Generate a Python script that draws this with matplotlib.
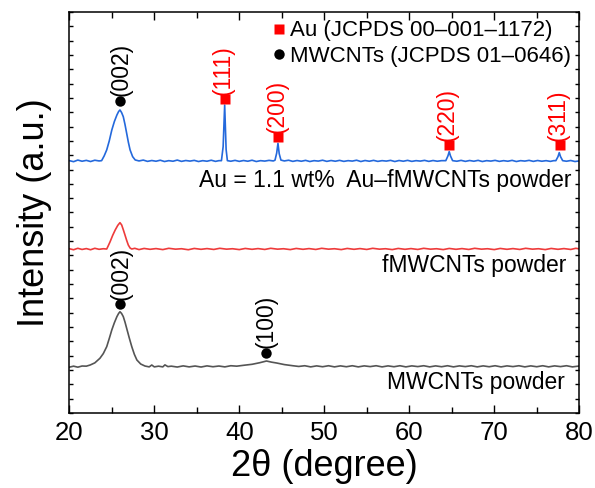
import numpy as np
import matplotlib
matplotlib.use("Agg")
import matplotlib.pyplot as plt
from matplotlib.lines import Line2D
from matplotlib.ticker import MultipleLocator, NullFormatter

plt.rcParams['font.family'] = ['Liberation Sans', 'DejaVu Sans']

# (2theta, intensity), offset traces already stacked
au_fmwcnt = [(20.0,17.62),(20.5,17.55),(21.0,17.66),(21.5,17.58),(22.0,17.64),(22.5,17.56),(23.0,17.65),(23.5,17.6),
    (23.8,17.62),(24.1,17.95),(24.4,18.37),(24.7,19.0),(25.0,19.76),(25.3,20.35),(25.6,20.81),(25.8,21.05),(25.96,21.16),
    (26.15,20.98),(26.35,20.69),(26.55,20.15),(26.75,19.53),(26.95,18.9),(27.15,18.37),(27.45,17.9),(27.75,17.67),
    (28.2,17.6),(28.7,17.66),(29.2,17.57),(29.7,17.63),(30.2,17.58),(30.7,17.65),(31.2,17.56),(31.7,17.62),(32.2,17.58),
    (32.7,17.66),(33.2,17.57),(33.7,17.63),(34.2,17.59),(34.7,17.64),(35.2,17.56),(35.7,17.62),(36.2,17.58),(36.7,17.65),
    (37.2,17.57),(37.6,17.62),(37.9,17.62),(38.1,18.6),(38.2,20.2),(38.28,21.5),(38.36,20.0),(38.45,18.4),(38.6,17.62),
    (39.0,17.58),(39.5,17.64),(40.0,17.57),(40.5,17.63),(41.0,17.58),(41.5,17.65),(42.0,17.56),(42.5,17.62),(43.0,17.59),
    (43.5,17.64),(44.0,17.6),(44.2,17.65),(44.4,18.15),(44.55,18.83),(44.7,18.1),(44.9,17.66),(45.3,17.6),(45.8,17.65),
    (46.3,17.57),(46.8,17.63),(47.3,17.58),(47.8,17.64),(48.3,17.56),(48.8,17.62),(49.3,17.59),(49.8,17.65),(50.3,17.57),
    (50.8,17.63),(51.3,17.58),(51.8,17.64),(52.3,17.57),(52.8,17.62),(53.3,17.59),(53.8,17.65),(54.3,17.56),(54.8,17.63),
    (55.3,17.58),(55.8,17.64),(56.3,17.57),(56.8,17.62),(57.3,17.59),(57.8,17.64),(58.3,17.56),(58.8,17.63),(59.3,17.58),
    (59.8,17.64),(60.3,17.57),(60.8,17.62),(61.3,17.59),(61.8,17.64),(62.3,17.57),(62.8,17.63),(63.3,17.58),(63.8,17.62),
    (64.3,17.62),(64.55,17.95),(64.7,18.25),(64.85,17.95),(65.1,17.62),(65.6,17.58),(66.1,17.64),(66.6,17.57),(67.1,17.63),
    (67.6,17.58),(68.1,17.64),(68.6,17.56),(69.1,17.62),(69.6,17.59),(70.1,17.64),(70.6,17.57),(71.1,17.62),(71.6,17.58),
    (72.1,17.64),(72.6,17.56),(73.1,17.62),(73.6,17.59),(74.1,17.64),(74.6,17.57),(75.1,17.63),(75.6,17.58),(76.1,17.62),
    (76.6,17.57),(77.0,17.62),(77.25,17.62),(77.5,17.9),(77.65,18.18),(77.8,17.9),(78.05,17.62),(78.5,17.58),(79.0,17.63),
    (79.5,17.56),(80.0,17.6)]

fmwcnt = [(20.0,11.47),(20.5,11.4),(21.0,11.5),(21.5,11.42),(22.0,11.48),(22.5,11.4),(23.0,11.5),(23.5,11.43),(24.0,11.47),
    (24.4,11.45),(24.6,11.7),(24.8,11.96),(25.1,12.4),(25.4,12.78),(25.7,13.1),(25.96,13.29),(26.16,13.13),(26.35,12.8),
    (26.55,12.43),(26.75,12.05),(26.94,11.73),(27.15,11.52),(27.35,11.45),(27.7,11.5),(28.2,11.41),(28.8,11.49),(29.5,11.43),
    (30.2,11.48),(31.0,11.41),(31.7,11.5),(32.5,11.44),(33.2,11.47),(34.0,11.4),(34.7,11.49),(35.5,11.43),(36.2,11.48),
    (37.0,11.42),(37.7,11.5),(38.5,11.44),(39.2,11.47),(40.0,11.41),(40.7,11.49),(41.5,11.43),(42.2,11.48),(43.0,11.42),
    (43.7,11.5),(44.5,11.44),(45.2,11.47),(46.0,11.41),(46.7,11.49),(47.5,11.43),(48.2,11.48),(49.0,11.42),(49.7,11.5),
    (50.5,11.44),(51.2,11.47),(52.0,11.41),(52.7,11.49),(53.5,11.43),(54.2,11.48),(55.0,11.42),(55.7,11.5),(56.5,11.44),
    (57.2,11.47),(58.0,11.41),(58.7,11.49),(59.5,11.43),(60.2,11.48),(61.0,11.42),(61.7,11.5),(62.5,11.44),(63.2,11.47),
    (64.0,11.41),(64.7,11.49),(65.5,11.43),(66.2,11.48),(67.0,11.42),(67.7,11.5),(68.5,11.44),(69.2,11.47),(70.0,11.41),
    (70.7,11.49),(71.5,11.43),(72.2,11.48),(73.0,11.42),(73.7,11.5),(74.5,11.44),(75.2,11.47),(76.0,11.41),(76.7,11.49),
    (77.5,11.43),(78.2,11.48),(79.0,11.42),(79.6,11.5),(80.0,11.46)]

mwcnt = [(20.0,3.2),(20.5,3.27),(21.0,3.2),(21.5,3.28),(22.0,3.27),(22.45,3.35),(23.0,3.5),(23.6,3.82),(24.0,4.15),
    (24.4,4.63),(24.7,5.2),(25.0,5.8),(25.3,6.3),(25.6,6.73),(25.8,6.95),(25.96,7.07),(26.15,6.95),(26.35,6.73),(26.55,6.35),
    (26.75,5.91),(27.05,5.25),(27.35,4.63),(27.65,4.1),(27.95,3.7),(28.4,3.42),(28.9,3.28),(29.4,3.22),(29.7,3.35),(30.0,3.22),
    (30.5,3.27),(31.0,3.22),(31.25,3.36),(31.6,3.24),(32.0,3.27),(32.7,3.21),(33.4,3.29),(34.1,3.22),(34.8,3.28),(35.5,3.21),
    (36.2,3.29),(36.9,3.23),(37.6,3.28),(38.3,3.22),(39.0,3.3),(39.7,3.27),(40.5,3.33),(41.5,3.4),(42.4,3.51),(43.2,3.63),
    (43.8,3.55),(44.4,3.49),(45.3,3.38),(46.3,3.3),(47.0,3.25),(47.7,3.3),(48.4,3.22),(49.1,3.29),(49.8,3.23),(50.5,3.3),
    (51.2,3.22),(51.9,3.29),(52.6,3.23),(53.3,3.3),(54.0,3.22),(54.7,3.29),(55.4,3.24),(56.1,3.3),(56.8,3.22),(57.5,3.29),
    (58.2,3.23),(58.9,3.3),(59.6,3.22),(60.3,3.29),(61.0,3.24),(61.7,3.3),(62.4,3.22),(63.1,3.29),(63.8,3.23),(64.5,3.3),
    (65.2,3.22),(65.9,3.29),(66.6,3.24),(67.3,3.3),(68.0,3.22),(68.7,3.29),(69.4,3.23),(70.1,3.3),(70.8,3.22),(71.5,3.29),
    (72.2,3.24),(72.9,3.3),(73.6,3.22),(74.3,3.29),(75.0,3.23),(75.7,3.3),(76.4,3.22),(77.1,3.29),(77.8,3.24),(78.5,3.3),
    (79.2,3.22),(80.0,3.28)]

# peak markers: (x, marker y, label)
au_peaks = [(38.28, 21.9, '(111)'), (44.55, 19.25, '(200)'), (64.65, 18.7, '(220)'), (77.7, 18.7, '(311)')]
cnt_peaks = [(25.96, 21.8, '(002)'), (26.0, 7.59, '(002)'), (43.1, 4.21, '(100)')]

sample_labels = [(79.1, 16.2, 'Au = 1.1 wt%  Au\u2013fMWCNTs powder'),
                 (78.5, 10.33, 'fMWCNTs powder'),
                 (78.3, 2.16, 'MWCNTs powder')]

fig = plt.figure(figsize=(5.95, 4.88), dpi=100)
ax = fig.add_axes([0.1165, 0.1537, 0.857, 0.8217])

for pts, col in [(au_fmwcnt, '#2469dc'), (fmwcnt, '#ee3b3b'), (mwcnt, '#555555')]:
    a = np.array(pts)
    ax.plot(a[:, 0], a[:, 1], color=col, lw=1.2)

for x, y, lab in au_peaks:
    ax.plot(x, y, 's', color='#ff0000', ms=6.5, mec='none')
    ax.text(x - 0.15, y + 0.3, lab, rotation=90, ha='center', va='bottom', color='#ff0000', fontsize=16.5)
for x, y, lab in cnt_peaks:
    ax.plot(x, y, 'o', color='k', ms=7.5, mec='none')
    ax.text(x + 0.1, y + 0.3, lab, rotation=90, ha='center', va='bottom', color='k', fontsize=16.5)

for x, y, lab in sample_labels:
    ax.text(x, y, lab, ha='right', va='center', fontsize=16.5)

handles = [Line2D([], [], ls='none', marker='s', color='#ff0000', ms=6.5, mec='none'),
           Line2D([], [], ls='none', marker='o', color='k', ms=7.5, mec='none')]
ax.legend(handles, ['Au (JCPDS 00\u2013001\u20131172)', 'MWCNTs (JCPDS 01\u20130646)'],
          loc='upper left', bbox_to_anchor=(0.39, 0.99), frameon=False, fontsize=16,
          handlelength=0.6, handletextpad=0.2, borderpad=0.1, labelspacing=0.2, borderaxespad=0.1)

ax.set_xlim(20, 80)
ax.set_ylim(0, 28)
ax.xaxis.set_major_locator(MultipleLocator(10))
ax.xaxis.set_minor_locator(MultipleLocator(5))
ax.yaxis.set_major_locator(MultipleLocator(1))
ax.yaxis.set_major_formatter(NullFormatter())
ax.tick_params(axis='x', which='major', direction='in', length=6, width=1, top=True, labelsize=18.5, pad=6)
ax.tick_params(axis='x', which='minor', direction='in', length=4, width=1, top=True)
ax.tick_params(axis='y', which='major', direction='in', length=3, width=1, right=True)
for s in ax.spines.values():
    s.set_linewidth(1.1)

ax.set_xlabel('2\u03b8 (degree)', fontsize=26, labelpad=3)
ax.set_ylabel('Intensity (a.u.)', fontsize=26, labelpad=9)

fig.savefig('out.png', dpi=100)
